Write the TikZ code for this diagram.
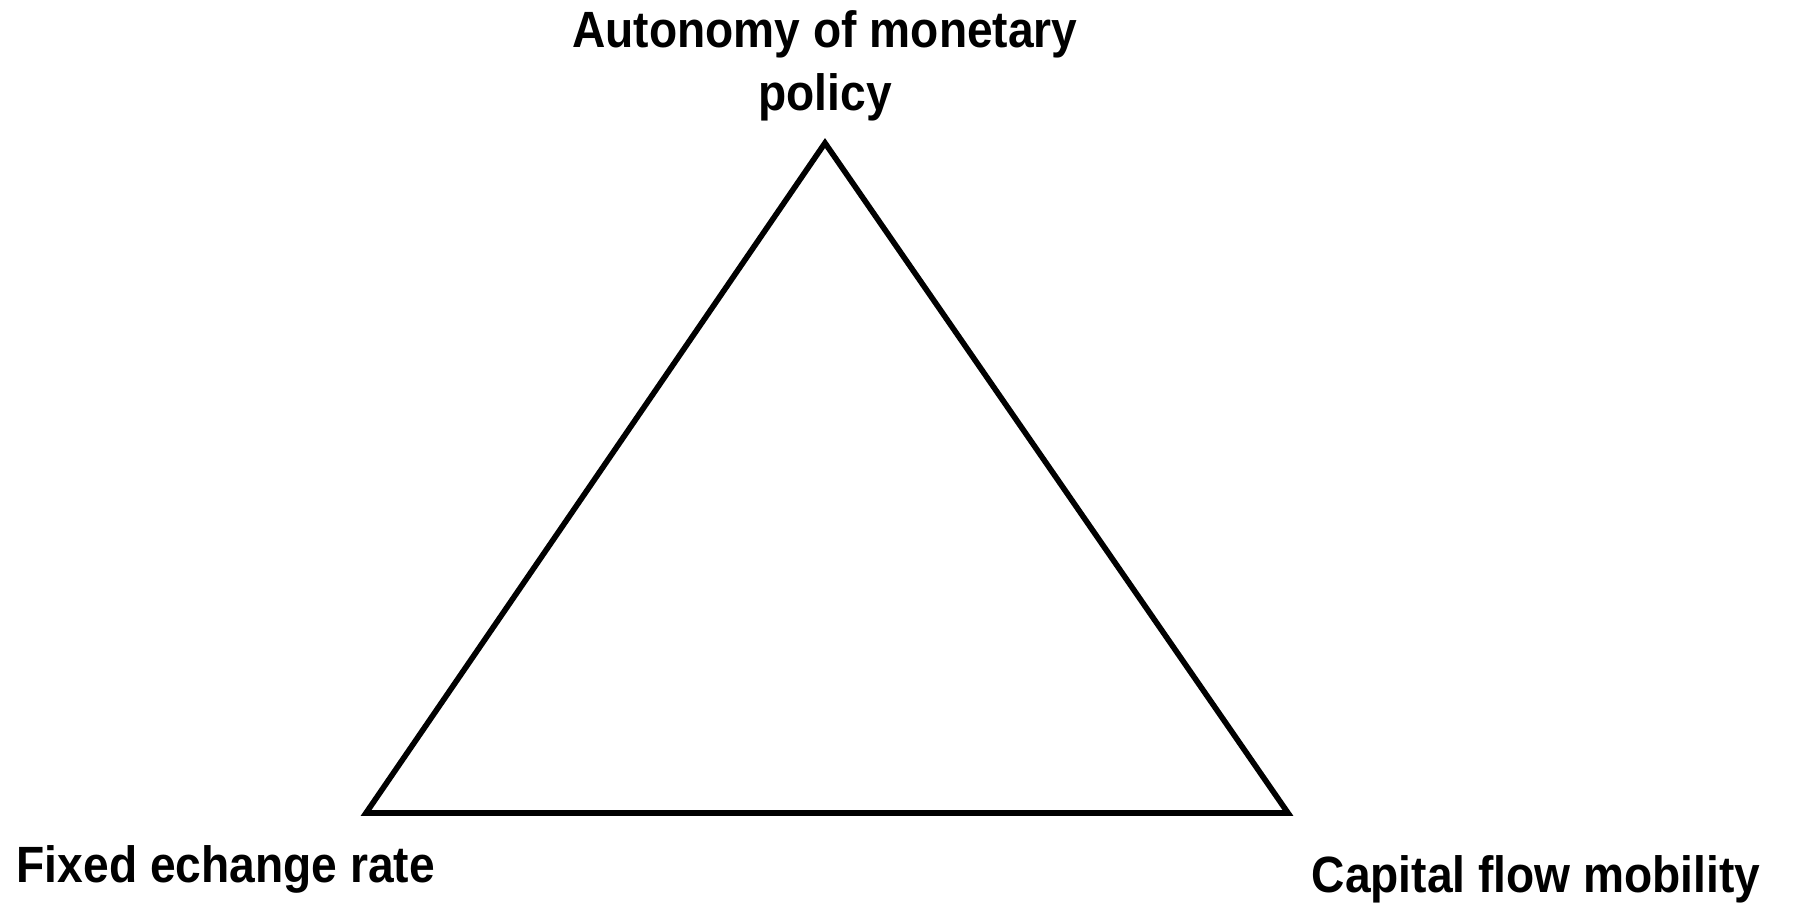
\documentclass[tikz,border=0pt]{standalone}
\usepackage{fontspec}
\setmainfont{Liberation Sans}[FakeStretch=0.905]
\usetikzlibrary{positioning}
\tikzset{
  cornerlabel/.style={font=\fontsize{14.5pt}{17.7pt}\selectfont\bfseries, inner sep=0pt, align=center},
  trianglepath/.style={draw=black, line width=1.6pt, line join=miter},
}

\begin{document}
\begin{tikzpicture}[x=0.01cm, y=-0.01cm]
    \useasboundingbox[fill=white] (0,0) rectangle (1794,902);
    \coordinate (apex) at (825,143);
    \coordinate (left) at (366,813);
    \coordinate (right) at (1288,813);
    \draw[trianglepath] (apex) -- (left) -- (right) -- cycle;
    \node[cornerlabel, anchor=base] (autonomy) at (825,110) {Autonomy of monetary\\policy};
    \node[cornerlabel, anchor=base west] (fixed) at (16,882) {Fixed echange rate};
    \node[cornerlabel, anchor=base west] (capital) at (1311,892) {Capital flow mobility};
\end{tikzpicture}
\end{document}
